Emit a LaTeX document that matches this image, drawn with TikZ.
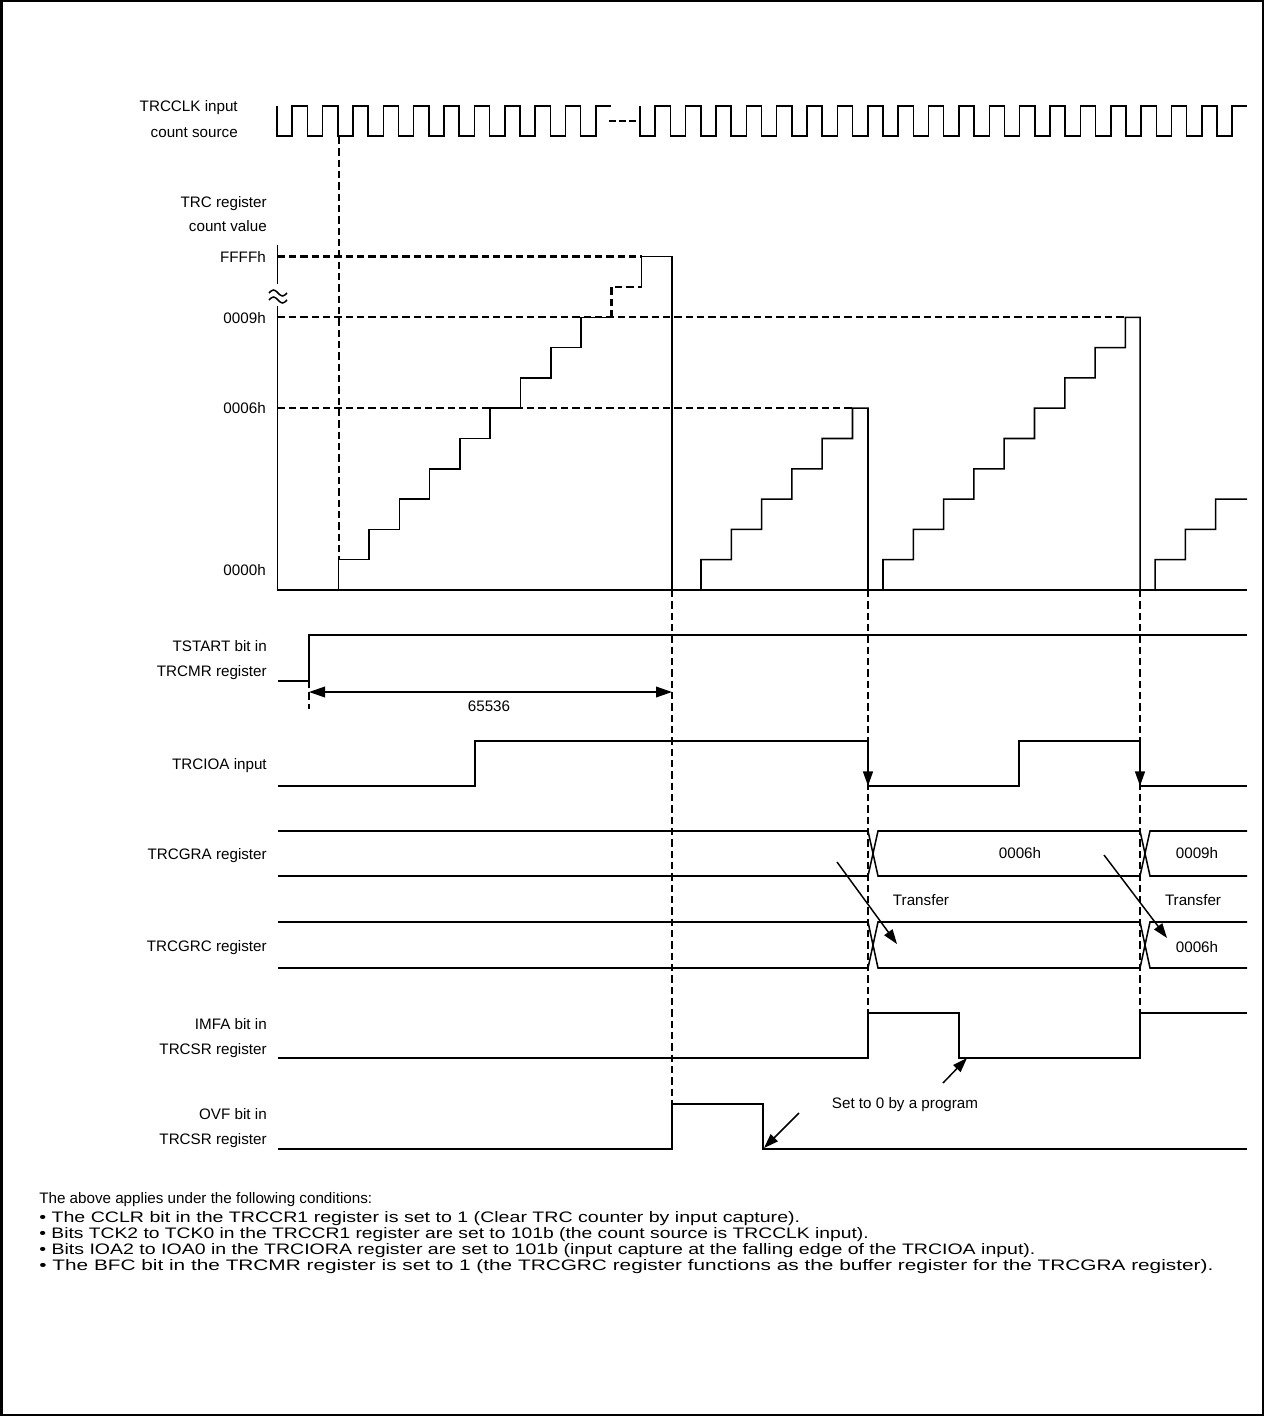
\documentclass[tikz,border=0pt]{standalone}
\usepackage{fontspec}
\setmainfont{Liberation Sans}
\usetikzlibrary{arrows.meta}
\begin{document}
\begin{tikzpicture}[x=0.75pt,y=-0.75pt,
  sig/.style={line width=1.15pt},
  dsh/.style={line width=1.7pt, dash pattern=on 5.5pt off 3pt},
  lbl/.style={inner sep=0pt, font=\fontsize{11.4}{13}\selectfont},
  tipa/.style={-{Triangle[length=11pt,width=7.5pt]}, line width=1.1pt},
  dima/.style={{Triangle[length=12pt,width=8pt]}-{Triangle[length=12pt,width=8pt]}, line width=1.1pt}]
\useasboundingbox (0,0) rectangle (1264,1416);
\draw[line width=1.5pt] (1.5,1.5) rectangle (1262.5,1414.5);
\def\h{15.185}
\def\s{30.3}
% ---------------- left labels
\node[lbl,anchor=base east] (clk1) at (238,112) {TRCCLK input};
\node[lbl,anchor=base east] (clk2) at (238,138) {count source};
\node[lbl,anchor=base east] (trc1) at (267,207) {TRC register};
\node[lbl,anchor=base east] (trc2) at (267,231) {count value};
\node[lbl,anchor=base east] (vF) at (266,262.5) {FFFFh};
\node[lbl,anchor=base east] (v9) at (266,323.5) {0009h};
\node[lbl,anchor=base east] (v6) at (266,413.5) {0006h};
\node[lbl,anchor=base east] (v0) at (266,575.5) {0000h};
\node[lbl,anchor=base east] (ts1) at (267,651) {TSTART bit in};
\node[lbl,anchor=base east] (ts2) at (267,676) {TRCMR register};
\node[lbl,anchor=base east] (ioa) at (267,769) {TRCIOA input};
\node[lbl,anchor=base east] (gra) at (267,859) {TRCGRA register};
\node[lbl,anchor=base east] (grc) at (267,951) {TRCGRC register};
\node[lbl,anchor=base east] (imf1) at (267,1029) {IMFA bit in};
\node[lbl,anchor=base east] (imf2) at (267,1054) {TRCSR register};
\node[lbl,anchor=base east] (ovf1) at (267,1119) {OVF bit in};
\node[lbl,anchor=base east] (ovf2) at (267,1144) {TRCSR register};
% ---------------- clock
\draw[sig] (277,106) \foreach \p in {0,...,10} { -- ++(0,30) -- ++(\h,0) -- ++(0,-30) -- ++(\h,0) };
\draw[line width=1.7pt, dash pattern=on 5pt off 2.5pt] (609,121) -- (637,121);
\draw[sig] (640,106) \foreach \p in {0,...,19} { -- ++(0,30) -- ++(\h,0) -- ++(0,-30) -- ++(\h,0) };
% ---------------- count value axes
\draw[sig] (277.5,245) -- (277.5,284);
\draw[sig] (277.5,306) -- (277.5,590) -- (1247,590);
\draw[sig] (269,293) sin (273.5,290) cos (278,293) sin (282.5,296) cos (287,293);
\draw[sig] (269,300) sin (273.5,297) cos (278,300) sin (282.5,303) cos (287,300);
% dashed reference lines
\draw[dsh] (277.5,256.4) -- (641.7,256.4);
\draw[dsh] (277.5,317.3) -- (1125.4,317.3);
\draw[dsh] (277.5,408.2) -- (852.5,408.2);
\draw[dsh] (338.7,137) -- (338.7,560);
% staircase 1
\draw[sig] (338.7,590) \foreach \k in {0,...,8} { -- ++(0,-\s) -- ++(\s,0) };
\draw[dsh] (611.4,317.3) -- (611.4,287) -- (641.7,287);
\draw[sig] (641.7,287) -- (641.7,256.4) -- (672,256.4) -- (672,590);
% staircase 2
\draw[sig] (701,590) \foreach \k in {0,...,4} { -- ++(0,-\s) -- ++(\s,0) } -- ++(0,-\s) -- (868,408.2) -- (868,590);
% staircase 3
\draw[sig] (883,590) \foreach \k in {0,...,7} { -- ++(0,-\s) -- ++(\s,0) } -- ++(0,-\s) -- (1140,317.3) -- (1140,590);
% staircase 4
\draw[sig] (1155,590) \foreach \k in {0,...,1} { -- ++(0,-\s) -- ++(\s,0) } -- ++(0,-\s) -- (1247,499.1);
% dashed drop lines
\draw[dsh] (672,590) -- (672,1104);
\draw[dsh] (868,590) -- (868,1013);
\draw[dsh] (1140,590) -- (1140,1013);
% ---------------- TSTART
\draw[sig] (278,681) -- (309,681) -- (309,635) -- (1247,635);
\draw[dsh] (309,681) -- (309,709);
\coordinate (d1) at (309,692);
\coordinate (d2) at (672,692);
\draw[dima] (d1) -- (d2);
\node[lbl,anchor=base] (cnt) at (489,711.5) {65536};
% ---------------- TRCIOA
\draw[sig] (278,786) -- (475,786) -- (475,741) -- (868,741);
\draw[sig] (868,786) -- (1019,786) -- (1019,741) -- (1140,741);
\draw[sig] (1140,786) -- (1247,786);
\coordinate (ia1) at (868,741);
\coordinate (ib1) at (868,786);
\coordinate (ia2) at (1140,741);
\coordinate (ib2) at (1140,786);
\draw[tipa] (ia1) -- (ib1);
\draw[tipa] (ia2) -- (ib2);
% ---------------- TRCGRA bus
\draw[sig] (278,831) -- (868,831) -- (878,876) -- (1140,876) -- (1150,831) -- (1247,831);
\draw[sig] (278,876) -- (868,876) -- (878,831) -- (1140,831) -- (1150,876) -- (1247,876);
\node[lbl,anchor=base] (ga6) at (1020,858.5) {0006h};
\node[lbl,anchor=base] (ga9) at (1197,858.5) {0009h};
% ---------------- TRCGRC bus
\draw[sig] (278,922) -- (868,922) -- (878,968) -- (1140,968) -- (1150,922) -- (1247,922);
\draw[sig] (278,968) -- (868,968) -- (878,922) -- (1140,922) -- (1150,968) -- (1247,968);
\node[lbl,anchor=base] (gc6) at (1197,952.5) {0006h};
% transfer arrows
\node[lbl,anchor=base] (tr1) at (921,905.5) {Transfer};
\node[lbl,anchor=base] (tr2) at (1193,905.5) {Transfer};
\coordinate (t1a) at (837,862);
\coordinate (t1b) at (897,944);
\coordinate (t2a) at (1104,855);
\coordinate (t2b) at (1167,938);
\draw[tipa] (t1a) -- (t1b);
\draw[tipa] (t2a) -- (t2b);
% ---------------- IMFA
\draw[sig] (278,1058) -- (868,1058) -- (868,1013) -- (959,1013) -- (959,1058) -- (1140,1058) -- (1140,1013) -- (1247,1013);
% ---------------- OVF
\draw[sig] (278,1149) -- (672,1149) -- (672,1104) -- (763,1104) -- (763,1149) -- (1247,1149);
\node[lbl,anchor=base] (set0) at (905,1108.5) {Set to 0 by a program};
\coordinate (s1a) at (799,1113);
\coordinate (s1b) at (764,1148);
\coordinate (s2a) at (943,1083);
\coordinate (s2b) at (967,1058);
\draw[tipa] (s1a) -- (s1b);
\draw[tipa] (s2a) -- (s2b);
% ---------------- notes
\node[lbl,anchor=base west] (n0) at (39,1203.5) {The above applies under the following conditions:};
\node[lbl,anchor=base west,xscale=1.288] (n1) at (39,1222.5) {• The CCLR bit in the TRCCR1 register is set to 1 (Clear TRC counter by input capture).};
\node[lbl,anchor=base west,xscale=1.268] (n2) at (39,1238.5) {• Bits TCK2 to TCK0 in the TRCCR1 register are set to 101b (the count source is TRCCLK input).};
\node[lbl,anchor=base west,xscale=1.284] (n3) at (39,1254.5) {• Bits IOA2 to IOA0 in the TRCIORA register are set to 101b (input capture at the falling edge of the TRCIOA input).};
\node[lbl,anchor=base west,xscale=1.368] (n4) at (39,1270.5) {• The BFC bit in the TRCMR register is set to 1 (the TRCGRC register functions as the buffer register for the TRCGRA register).};
\end{tikzpicture}
\end{document}
